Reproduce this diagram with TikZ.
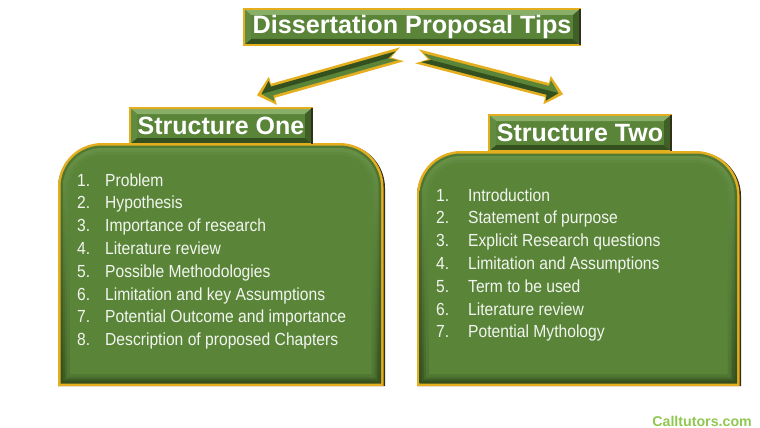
\documentclass[tikz,border=0pt]{standalone}
\usepackage{fontspec}
\setmainfont{Liberation Sans}
\newfontfamily\listfont[FakeStretch=0.894]{Liberation Sans}
\usetikzlibrary{calc,positioning}

\definecolor{leaf}{HTML}{5A8539}
\definecolor{leaflight}{HTML}{88AE68}
\definecolor{leafdark}{HTML}{34501F}
\definecolor{gold}{HTML}{E5AE1F}
\definecolor{bark}{HTML}{33301A}
\definecolor{sitegreen}{HTML}{8FC750}

\newcommand\bevelfill{%
  \def\bb{path picture bounding box}
  \fill[leaflight] (\bb.north west) -- (\bb.north east) -- ([shift={(-7,6)}]\bb.north east) -- ([shift={(7,6)}]\bb.north west) -- cycle;
  \fill[leafdark] (\bb.south west) -- (\bb.south east) -- ([shift={(-7,-6)}]\bb.south east) -- ([shift={(7,-6)}]\bb.south west) -- cycle;
  \fill[leafdark!70!leaf] (\bb.north east) -- (\bb.south east) -- ([shift={(-7,-6)}]\bb.south east) -- ([shift={(-7,6)}]\bb.north east) -- cycle;
  \fill[leaf!85!leaflight] (\bb.north west) -- (\bb.south west) -- ([shift={(7,-6)}]\bb.south west) -- ([shift={(7,6)}]\bb.north west) -- cycle;
}

% top corners round, foot square
\newcommand\panelpath[5]{[sharp corners] ({#1+#5},{#4-#5}) [rounded corners={(44-#5)*1pt}] -- ({#1+#5},{#2+#5}) -- ({#3-#5},{#2+#5}) [sharp corners] -- ({#3-#5},{#4-#5}) -- cycle}

\newcommand\panel[4]{%
  \fill[bark] \panelpath{#1}{#2+1}{#3}{#4}{0};
  \fill[gold] \panelpath{#1}{#2}{#3-1.5}{#4}{0};
  \foreach \d/\ctop/\cfoot in {2.5/leaf!80!leafdark/leafdark,5/leaf!70!leaflight/leafdark!80!leaf,7/leaf!75!leaflight/leafdark!50!leaf,9/leaf!90!leaflight/leafdark!25!leaf,12/leaf/leaf}
    \shade[top color=\ctop,middle color=leaf,bottom color=\cfoot] \panelpath{#1}{#2}{#3-1.5}{#4}{\d};
}

\newcommand\tiparrow[3]{%
  \def\ap##1##2{($(#1)!##1!(#2)!##2pt!90:(#2)$)}
  \filldraw[gold,line width=1.5pt,line join=miter] \ap{0}{6.5} -- \ap{.9}{6.5} -- \ap{.9}{13} -- (#2) -- \ap{.9}{-13} -- \ap{.9}{-6.5} -- \ap{0}{-6.5} -- \ap{.07}{0} -- cycle;
  \fill[leaf] \ap{.02}{4.5} -- \ap{.9}{4.5} -- \ap{.905}{10.5} -- \ap{.975}{0} -- \ap{.905}{-10.5} -- \ap{.9}{-4.5} -- \ap{.02}{-4.5} -- \ap{.08}{0} -- cycle;
  \fill[leafdark] \ap{.08}{0} -- \ap{.02}{#3*4.5} -- \ap{.9}{#3*4.5} -- \ap{.905}{#3*10.5} -- \ap{.975}{0} -- cycle;
}

\tikzset{
  tipbox/.style={rectangle,draw=gold,line width=2.5pt,fill=leaf,outer sep=0pt,inner sep=0pt,
    text=white,font=\bfseries\fontsize{#1}{#1}\selectfont,path picture={\bevelfill}},
  listitem/.style={anchor=base west,inner sep=0pt,text=white!92!leaf,font=\listfont\fontsize{17.5}{20}\selectfont},
  sitemark/.style={anchor=base east,inner sep=0pt,text=sitegreen,font=\bfseries\fontsize{14.2}{14}\selectfont}
}

\begin{document}
\begin{tikzpicture}[x=1pt,y=-1pt]
  \useasboundingbox (0,0) rectangle (760,428);

  \panel{58}{143}{385}{386}
  \panel{417}{151}{741}{386}

  \node[tipbox=25.2,minimum width=336pt,minimum height=36pt] (title) at (412,27) {Dissertation Proposal Tips};
  \node[tipbox=25,minimum width=182pt,minimum height=36pt] (one) at (221,126) {Structure One};
  \node[tipbox=25,minimum width=182pt,minimum height=36pt] (two) at (580,133) {Structure Two};
  \foreach \boxname in {title,one,two}
    \draw[bark,line width=2.5pt] (\boxname.north east) -- (\boxname.south east);

  \coordinate (leftTail) at (399.5,55);
  \coordinate (leftTip) at (258,95);
  \coordinate (rightTail) at (419.5,57);
  \coordinate (rightTip) at (562,94);
  \tiparrow{leftTail}{leftTip}{-1}
  \tiparrow{rightTail}{rightTip}{-1}

  \foreach \n/\t [count=\y from 0] in {1/Problem,2/Hypothesis,3/Importance of research,4/Literature review,5/Possible Methodologies,6/Limitation and key Assumptions,7/Potential Outcome and importance,8/Description of proposed Chapters}{
    \node[listitem] (oneNum\n) at (77,{186+22.8*\y}) {\n.};
    \node[listitem] (oneItem\n) at (105,{186+22.8*\y}) {\t};
  }
  \foreach \n/\t [count=\y from 0] in {1/Introduction,2/Statement of purpose,3/Explicit Research questions,4/Limitation and Assumptions,5/Term to be used,6/Literature review,7/Potential Mythology}{
    \node[listitem] (twoNum\n) at (436,{201+22.8*\y}) {\n.};
    \node[listitem] (twoItem\n) at (468,{201+22.8*\y}) {\t};
  }

  \node[sitemark] (site) at (752,426) {Calltutors.com};
\end{tikzpicture}
\end{document}
